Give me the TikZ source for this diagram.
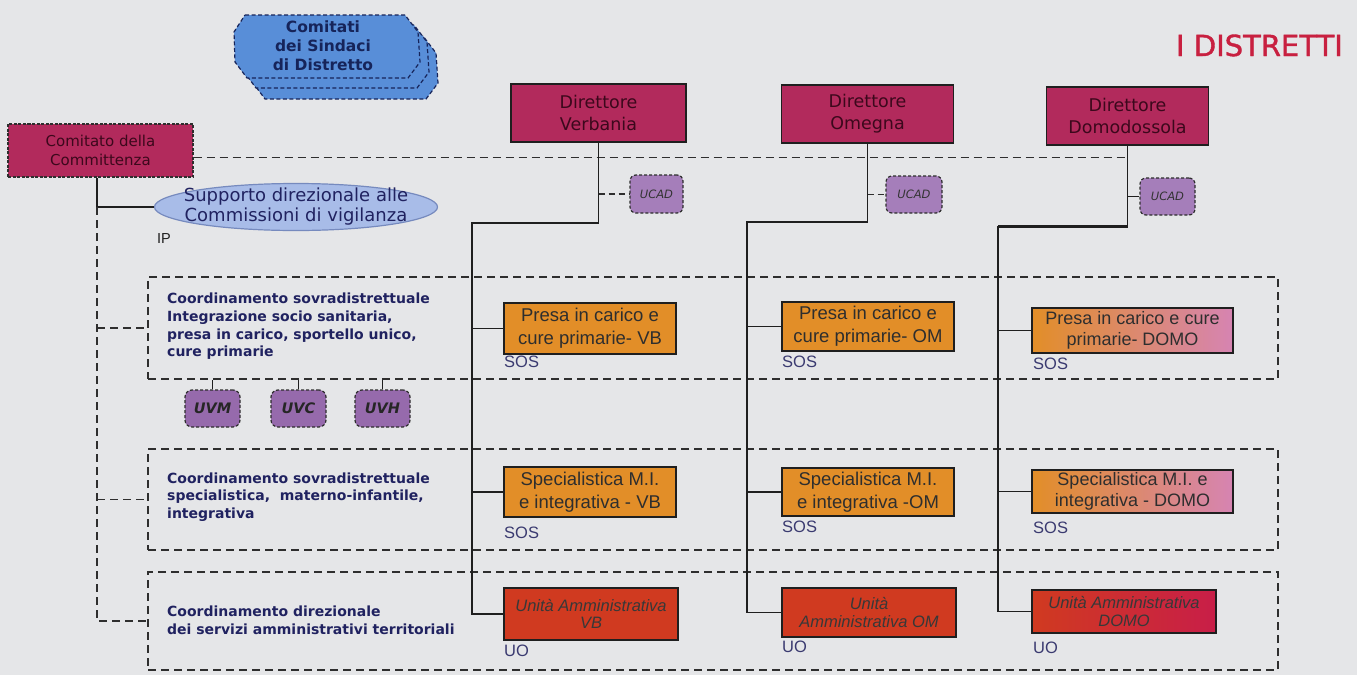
\documentclass[tikz,border=0pt]{standalone}
\usepackage{fontspec}
\setmainfont{Liberation Sans}
\newfontfamily\dvs{DejaVu Sans}
\newfontfamily\titlef[FakeBold=1.3]{DejaVu Sans}
\usetikzlibrary{shapes.geometric}
\definecolor{bgc}{RGB}{229,230,232}
\definecolor{dirc}{RGB}{178,42,92}
\definecolor{dirtext}{RGB}{60,8,28}
\definecolor{orc}{RGB}{226,142,40}
\definecolor{pinkc}{RGB}{214,132,178}
\definecolor{unc}{RGB}{208,58,32}
\definecolor{crimc}{RGB}{200,30,72}
\definecolor{ucadc}{RGB}{165,126,186}
\definecolor{uvc}{RGB}{150,106,172}
\definecolor{hexc}{RGB}{88,142,216}
\definecolor{hextext}{RGB}{22,36,90}
\definecolor{ellc}{RGB}{168,188,232}
\definecolor{elld}{RGB}{118,138,190}
\definecolor{navy}{RGB}{32,34,96}
\definecolor{labc}{RGB}{58,58,112}
\definecolor{titlered}{RGB}{200,32,64}
\begin{document}
\begin{tikzpicture}[x=1pt,y=-1pt,
  conn/.style={line width=1.8pt, draw=black!88},
  dashln/.style={line width=1.7pt, draw=black!82, dash pattern=on 8pt off 5pt},
  framebox/.style={draw=black!82, line width=1.7pt, dash pattern=on 8pt off 5pt, inner sep=0pt},
  dirbox/.style={draw=black!88, line width=1.6pt, fill=dirc, inner sep=0pt, align=center,
    font=\dvs\fontsize{17.5}{22}\selectfont, text=dirtext},
  orbox/.style={draw=black!88, line width=1.6pt, fill=orc, inner sep=0pt, align=center,
    font=\fontsize{18.5}{23}\selectfont, text=black!82},
  unbox/.style={draw=black!88, line width=1.6pt, fill=unc, inner sep=0pt, align=center,
    font=\itshape\fontsize{16.5}{17.5}\selectfont, text=black!78},
  ucadbox/.style={draw=black!82, line width=1.2pt, dash pattern=on 3pt off 2pt, fill=ucadc,
    rounded corners=6pt, inner sep=0pt, font=\dvs\itshape\fontsize{11.5}{13}\selectfont, text=black!80},
  uvbox/.style={draw=black!82, line width=1.2pt, dash pattern=on 3pt off 2pt, fill=uvc,
    rounded corners=7pt, inner sep=0pt, minimum width=55pt, minimum height=37pt,
    font=\dvs\bfseries\itshape\fontsize{14.5}{16}\selectfont, text=black!85},
  coordtxt/.style={anchor=west, align=left, inner sep=0pt, text=navy,
    font=\dvs\bfseries\fontsize{14}{17.7}\selectfont},
  lab/.style={anchor=west, inner sep=0pt, text=labc, font=\fontsize{16.5}{18}\selectfont},
  hexpath/.style={draw=hextext, line width=1.2pt, dash pattern=on 4pt off 2.5pt, fill=hexc}
]
\useasboundingbox (0,0) rectangle (1357,675);
\fill[bgc] (0,0) rectangle (1357,675);

% title
\node[anchor=base east, inner sep=0pt, text=titlered, font=\titlef\fontsize{29}{31}\selectfont] (title) at (1343,56) {I DISTRETTI};

% Comitati dei Sindaci (stacked shapes)
\foreach \dx/\dy in {18/21, 9/10, 0/0}{
  \draw[hexpath, shift={(\dx,\dy)}] (245,15) -- (405,15) -- (418,32) -- (420,62) -- (408,78) -- (247,78) -- (235,62) -- (234,32) -- cycle;
}
\node[align=center, inner sep=0pt, text=hextext, font=\dvs\bfseries\fontsize{15.5}{19}\selectfont] (sindaci) at (323,46) {Comitati\\dei Sindaci\\di Distretto};

% frames
\node[framebox, minimum width=1130pt, minimum height=102pt] (f1) at (713,328) {};
\node[framebox, minimum width=1130pt, minimum height=101pt] (f2) at (713,499.5) {};
\node[framebox, minimum width=1130pt, minimum height=98pt] (f3) at (713,621) {};

% Committenza
\node[draw=black!82, line width=1.2pt, dash pattern=on 3pt off 1.5pt, fill=dirc, minimum width=185pt, minimum height=53pt,
  inner sep=0pt, align=center, text=dirtext, font=\dvs\fontsize{15}{19}\selectfont] (comm) at (100.5,150.5) {Comitato della\\Committenza};
\coordinate (ct) at ([xshift=-3.5pt]comm.south);

% directors
\node[dirbox, minimum width=175pt, minimum height=58pt] (dv) at (598.5,113) {Direttore\\Verbania};
\node[dirbox, minimum width=172pt, minimum height=58pt] (dom) at (867.5,114) {Direttore\\Omegna};
\node[dirbox, minimum width=162pt, minimum height=58pt] (dd) at (1127.5,116) {Direttore\\Domodossola};

% ellipse
\node[ellipse, draw=elld, line width=1.2pt, fill=ellc, minimum width=283pt, minimum height=47pt, inner sep=0pt] (ell) at (296,207) {};
\node[align=center, inner sep=0pt, text=navy, font=\dvs\fontsize{18}{20}\selectfont] (elltxt) at (ell.center) {Supporto direzionale alle\\Commissioni di vigilanza};
\node[anchor=west, inner sep=0pt, font=\fontsize{14.5}{16}\selectfont, text=black!88] (ip) at (157,239) {IP};

% committenza dashed line
\draw[dashln] ([yshift=-7pt]comm.east) -- ([yshift=-7pt]comm.east -| dd.south);

% committenza tree
\draw[conn] (ct) -- (ct |- ell.west) -- (ell.west);
\draw[dashln] (ct |- ell.west) -- (ct |- f3.west) -- (f3.west);
\draw[dashln] (ct |- f1.west) -- (f1.west);
\draw[dashln] (ct |- f2.west) -- (f2.west);

% coordination texts
\node[coordtxt] (c1) at (167,326.5) {Coordinamento sovradistrettuale\\Integrazione socio sanitaria,\\presa in carico, sportello unico,\\cure primarie};
\node[coordtxt] (c2) at (167,497) {Coordinamento sovradistrettuale\\specialistica,\ \ materno-infantile,\\integrativa};
\node[coordtxt] (c3) at (167,620.5) {Coordinamento direzionale\\dei servizi amministrativi territoriali};

% UV boxes
\node[uvbox] (uvm) at (212.5,408.5) {UVM};
\node[uvbox] (uvcb) at (298.5,408.5) {UVC};
\node[uvbox] (uvh) at (382.5,408.5) {UVH};
\draw[conn] (uvm.north) -- (uvm.north |- f1.south);
\draw[conn] (uvcb.north) -- (uvcb.north |- f1.south);
\draw[conn] (uvh.north) -- (uvh.north |- f1.south);

% column boxes
\node[orbox, minimum width=172pt, minimum height=51pt] (pvb) at (590,328.5) {Presa in carico e\\cure primarie- VB};
\node[orbox, minimum width=172pt, minimum height=50pt] (svb) at (590,492) {Specialistica M.I.\\e integrativa - VB};
\node[unbox, minimum width=174pt, minimum height=52pt] (uvb) at (591,614) {Unità Amministrativa\\VB};

\node[orbox, minimum width=172pt, minimum height=49pt] (pom) at (868,326.5) {Presa in carico e\\cure primarie- OM};
\node[orbox, minimum width=172pt, minimum height=48pt] (som) at (868,492) {Specialistica M.I.\\e integrativa -OM};
\node[unbox, minimum width=174pt, minimum height=49pt, font=\itshape\fontsize{16.5}{18.5}\selectfont] (uom) at (869,612.5) {Unità\\Amministrativa OM};

\node[orbox, left color=orc, middle color=orc, right color=pinkc, minimum width=201pt, minimum height=45pt, font=\fontsize{18}{21}\selectfont] (pdo) at (1132.5,330.5) {Presa in carico e cure\\primarie- DOMO};
\node[orbox, left color=orc, middle color=orc, right color=pinkc, minimum width=201pt, minimum height=43pt, font=\fontsize{18}{21}\selectfont] (sdo) at (1132.5,491.5) {Specialistica M.I. e\\integrativa - DOMO};
\node[unbox, left color=unc, middle color=unc, right color=crimc, minimum width=184pt, minimum height=43pt] (udo) at (1124,611.5) {Unità Amministrativa\\DOMO};

% labels
\node[lab] (l1) at (504,362) {SOS};
\node[lab] (l2) at (504,533) {SOS};
\node[lab] (l3) at (504,651) {UO};
\node[lab] (l4) at (782,362) {SOS};
\node[lab] (l5) at (782,527) {SOS};
\node[lab] (l6) at (782,647) {UO};
\node[lab] (l7) at (1033,364) {SOS};
\node[lab] (l8) at (1033,528) {SOS};
\node[lab] (l9) at (1033,648) {UO};

% UCAD
\node[ucadbox, minimum width=53pt, minimum height=38pt] (ucv) at (656.5,194) {UCAD};
\node[ucadbox, minimum width=56pt, minimum height=37pt] (ucom) at (914,194.5) {UCAD};
\node[ucadbox, minimum width=55pt, minimum height=37pt] (ucdo) at (1167.5,196.5) {UCAD};

% trunks
\coordinate (tv) at (472,223);
\coordinate (tom) at (747,222);
\coordinate (tdo) at (998,226);

\draw[conn] (dv.south) |- (tv) -- (tv |- uvb.west) -- (uvb.west);
\draw[conn] (tv |- pvb.west) -- (pvb.west);
\draw[conn] (tv |- svb.west) -- (svb.west);
\draw[dashln, dash pattern=on 6pt off 4pt] (dv.south |- ucv.west) -- (ucv.west);

\draw[conn] (dom.south) |- (tom) -- (tom |- uom.west) -- (uom.west);
\draw[conn] (tom |- pom.west) -- (pom.west);
\draw[conn] (tom |- som.west) -- (som.west);
\draw[dashln, dash pattern=on 6pt off 4pt] (dom.south |- ucom.west) -- (ucom.west);

\draw[conn] (dd.south) -- (dd.south |- tdo);
\draw[conn, line width=3pt] (dd.south |- tdo) -- (tdo);
\draw[conn] (tdo) -- (tdo |- udo.west) -- (udo.west);
\draw[conn] (tdo |- pdo.west) -- (pdo.west);
\draw[conn] (tdo |- sdo.west) -- (sdo.west);
\draw[conn] (dd.south |- ucdo.west) -- (ucdo.west);
\end{tikzpicture}
\end{document}
